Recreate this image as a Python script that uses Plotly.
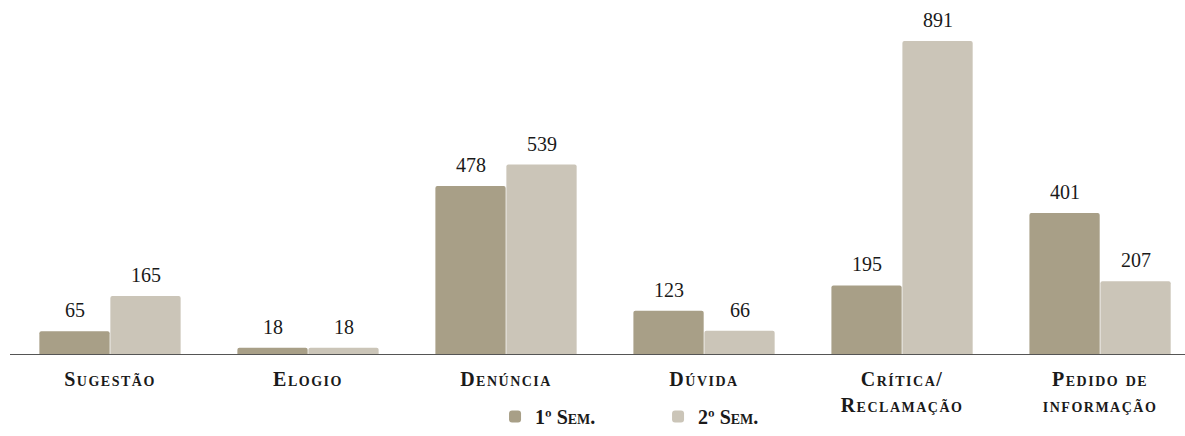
import plotly.graph_objects as go

categories = ["Sugestão", "Elogio", "Denúncia", "Dúvida", "Crítica/<br>Reclamação", "Pedido de<br>informação"]
sem1 = [65, 18, 478, 123, 195, 401]
sem2 = [165, 18, 539, 66, 891, 207]
series_names = ["1º Sem.", "2º Sem."]
colors = ["#a89f87", "#cbc5b8"]

x_idx = list(range(len(categories)))
serif = "Liberation Serif"
label_font = dict(family=serif, size=20, color="#1a1a1a", weight="bold", variant="small-caps")

fig = go.Figure()
for name, vals, col in zip(series_names, [sem1, sem2], colors):
    fig.add_trace(go.Bar(
        x=x_idx, y=vals, name=name,
        marker=dict(color=col, line=dict(width=0), cornerradius=2),
        hoverinfo="skip",
    ))

# value labels above each bar
half = 35.5
for vals, shift in [(sem1, -half), (sem2, half)]:
    for i, v in zip(x_idx, vals):
        fig.add_annotation(
            x=i, y=v, text=str(v), showarrow=False,
            xshift=shift, yshift=8, yanchor="bottom",
            font=dict(family=serif, size=20, color="#1a1a1a"),
        )

fig.update_layout(
    width=1185, height=436,
    margin=dict(l=10, r=0, t=10, b=82, autoexpand=False),
    paper_bgcolor="white", plot_bgcolor="white",
    barmode="group", bargap=0.283, bargroupgap=0.01,
    showlegend=True,
    legend=dict(
        orientation="h", xref="paper", x=0.4128, xanchor="left",
        yref="container", y=-0.0138, yanchor="bottom",
        font=label_font, itemwidth=30, traceorder="normal", entrywidth=118,
        bgcolor="rgba(0,0,0,0)",
    ),
    xaxis=dict(
        tickmode="array", tickvals=x_idx, ticktext=categories,
        range=[-0.505, 5.429], showgrid=False, zeroline=False,
        showline=True, linecolor="#555555", linewidth=1.2,
        ticks="", ticklabelstandoff=7, automargin=False,
        tickfont=label_font,
    ),
    yaxis=dict(range=[0, 979], visible=False, showgrid=False, zeroline=False, automargin=False),
)

# spaced-out lettering for the category labels
spacing_js = (
    "var gd=document.getElementById('{plot_id}');"
    "gd.querySelectorAll('.xtick text').forEach(function(t){"
    "t.style.letterSpacing='1.5px';});"
)

fig.write_html("out.html", post_script=spacing_js)
